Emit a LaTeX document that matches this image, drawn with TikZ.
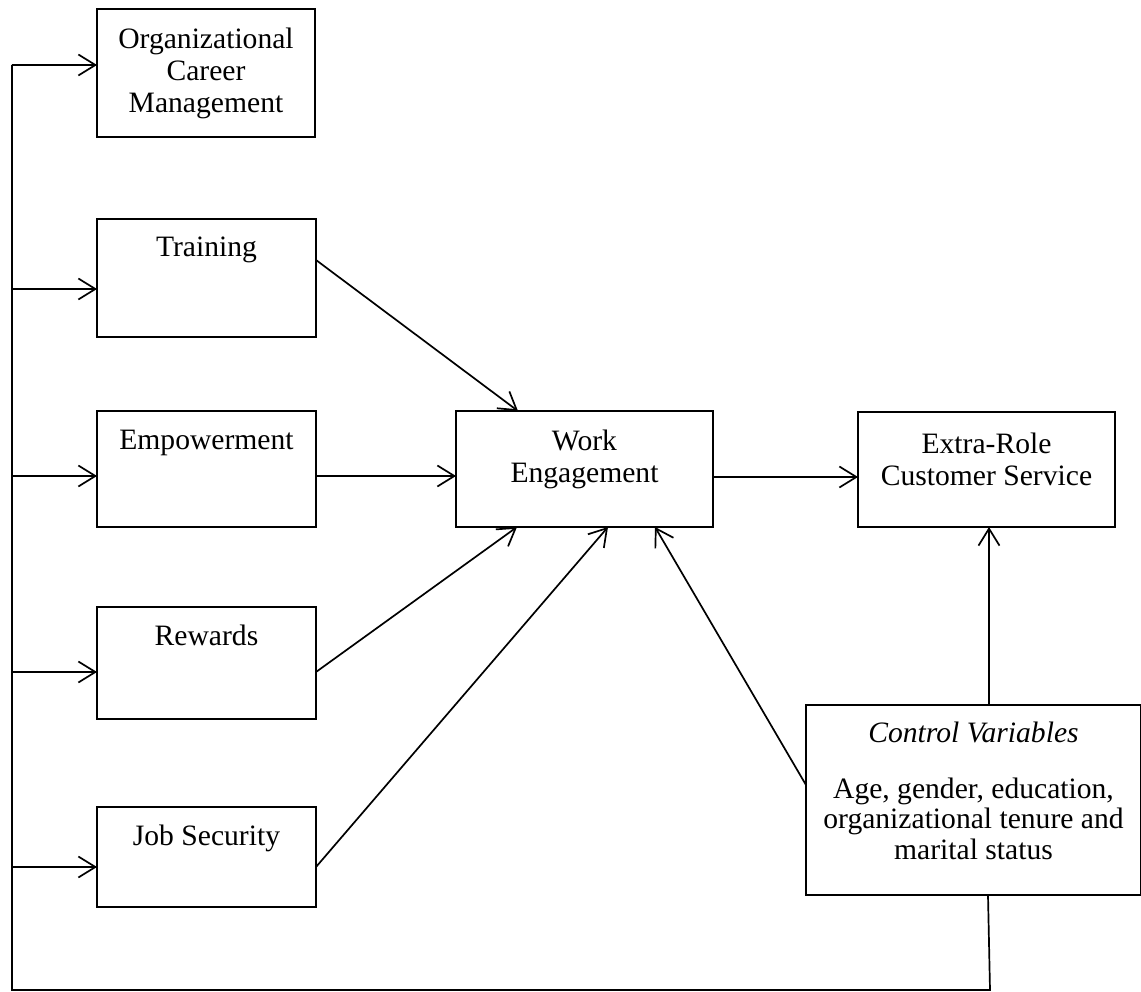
\documentclass[tikz,border=0pt]{standalone}
\usepackage{fontspec}
\setmainfont{Liberation Serif}
\usetikzlibrary{arrows.meta,calc}
\begin{document}
\begin{tikzpicture}[x=1pt,y=-1pt,
  box/.style={draw, line width=1.7pt, rectangle, inner sep=0pt, outer sep=0pt},
  txt/.style={inner sep=0pt, align=center, font=\fontsize{29.6}{32}\selectfont, anchor=north},
  arr/.style={-{Straight Barb[length=17pt,width=21pt]}, line width=1.7pt},
  ln/.style={line width=1.7pt}]
\useasboundingbox (0,0) rectangle (1141,992);
% boxes
\node[box, minimum width=218pt, minimum height=128pt] (org) at (206,73) {};
\node[box, minimum width=219pt, minimum height=118pt] (training) at (206.5,278) {};
\node[box, minimum width=219pt, minimum height=116pt] (empow) at (206.5,469) {};
\node[box, minimum width=219pt, minimum height=112pt] (rewards) at (206.5,663) {};
\node[box, minimum width=219pt, minimum height=100pt] (jobsec) at (206.5,857) {};
\node[box, minimum width=257pt, minimum height=116pt] (we) at (584.5,469) {};
\node[box, minimum width=257pt, minimum height=115pt] (er) at (986.5,469.5) {};
\node[box, minimum width=335pt, minimum height=190pt] (ctrl) at (973.5,800) {};
% texts
\node[txt] (orgT) at ($(org.north)+(0,18.5)$) {Organizational\\Career\\Management};
\node[txt] (trainingT) at ($(training.north)+(0,17.5)$) {Training};
\node[txt] (empowT) at ($(empow.north)+(0,18.5)$) {Empowerment};
\node[txt] (rewardsT) at ($(rewards.north)+(0,17.5)$) {Rewards};
\node[txt] (jobsecT) at ($(jobsec.north)+(0,17.5)$) {Job Security};
\node[txt] (weT) at ($(we.north)+(0,18.5)$) {Work\\Engagement};
\node[txt] (erT) at ($(er.north)+(0,20.5)$) {Extra-Role\\Customer Service};
\node[txt, font=\fontsize{29.6}{32}\selectfont\itshape] (ctrlT) at ($(ctrl.north)+(0,16.5)$) {Control Variables};
\node[txt, font=\fontsize{29.6}{30.5}\selectfont] (ctrlB) at ($(ctrl.north)+(0,72.5)$) {Age, gender, education,\\organizational tenure and\\marital status};
% feedback bus
\coordinate (busTop) at (12,65);
\coordinate (busBot) at (12,990);
\coordinate (busR) at (990,990);
\draw[ln] ($(ctrl.south)+(14.5,0)$) -- (busR) -- (busBot) -- (busTop);
\draw[arr] (busTop) -- (org.west |- busTop);
\foreach \n/\y in {training/289, empow/476, rewards/672, jobsec/867}
  \draw[arr] (busTop |- 0,\y) -- (\n.west |- 0,\y);
% main arrows
\draw[arr] (training.east |- 0,260) -- (we.north -| 518,0);
\draw[arr] (empow.east |- 0,476) -- (we.west |- 0,476);
\draw[arr] (rewards.east |- 0,672) -- (we.south -| 517,0);
\draw[arr] (jobsec.east |- 0,867) -- (we.south -| 608,0);
\draw[arr] (ctrl.west |- 0,785) -- (we.south -| 655,0);
\draw[arr] (we.east |- 0,477) -- (er.west |- 0,477);
\draw[arr] (ctrl.north -| 989,0) -- (er.south -| 989,0);
\end{tikzpicture}
\end{document}
